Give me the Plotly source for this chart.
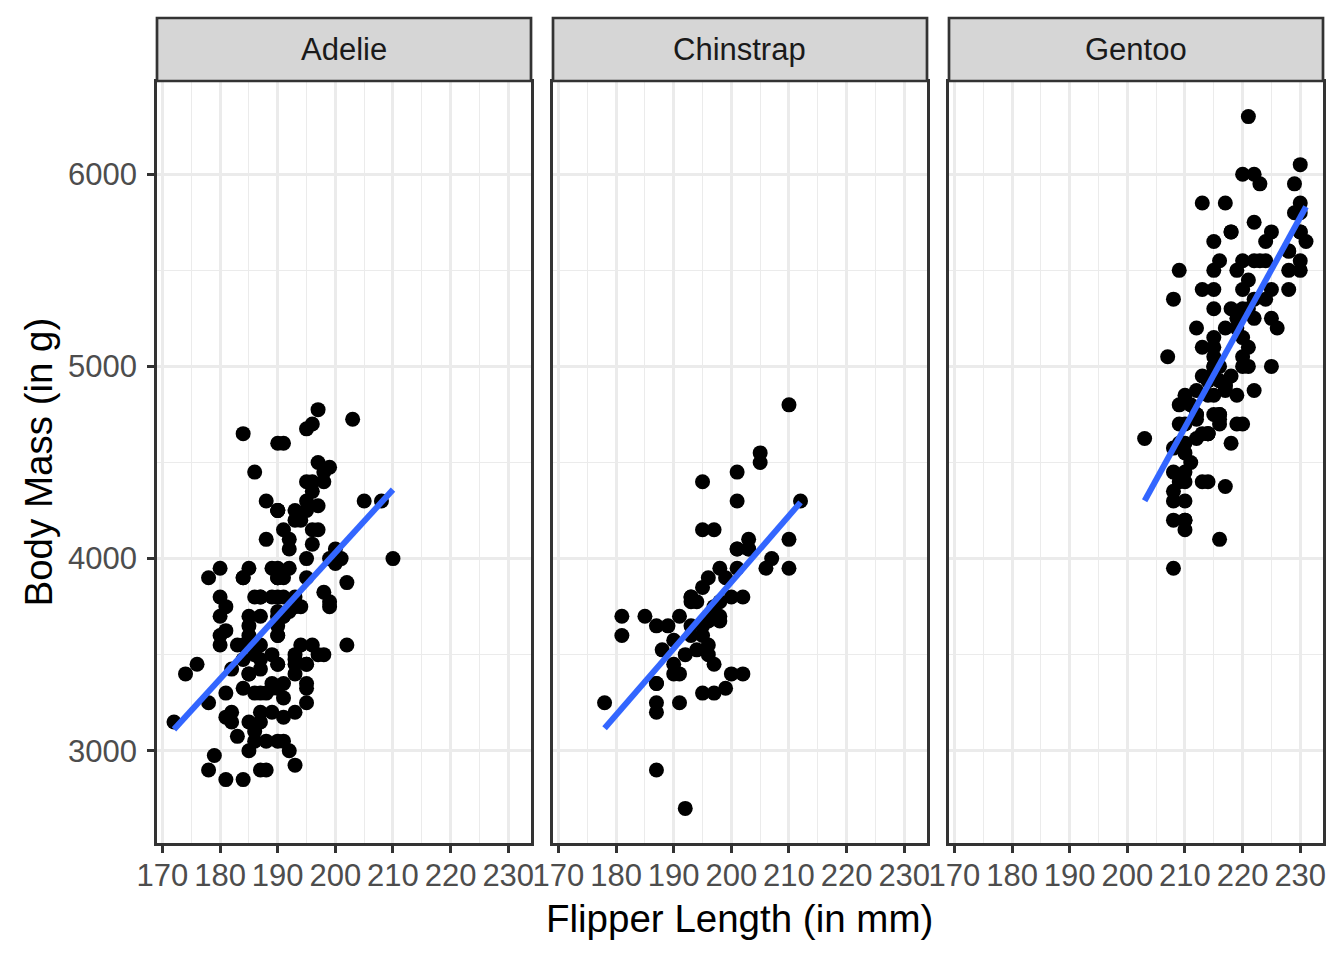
import numpy as np
import plotly.graph_objects as go

W, H = 1344, 960

species = ['Adelie', 'Chinstrap', 'Gentoo']

adelie_flipper = [181, 186, 195, 193, 190, 181, 195, 193, 190, 186, 180, 182, 191, 198, 185, 195, 197, 184, 194, 174,
                  180, 189, 185, 180, 187, 183, 187, 172, 180, 178, 178, 188, 184, 195, 196, 190, 180, 181, 184, 182,
                  195, 186, 196, 185, 190, 182, 179, 190, 191, 186, 188, 190, 200, 187, 191, 186, 193, 181, 194, 185,
                  195, 185, 192, 184, 192, 195, 188, 190, 198, 190, 190, 196, 197, 190, 195, 191, 184, 187, 195, 189,
                  196, 187, 193, 191, 194, 190, 189, 189, 190, 202, 205, 185, 186, 187, 208, 190, 196, 178, 192, 192,
                  203, 183, 190, 193, 184, 199, 190, 181, 197, 198, 191, 193, 197, 191, 196, 188, 199, 189, 189, 187,
                  198, 176, 202, 186, 199, 191, 195, 191, 210, 190, 197, 193, 199, 187, 190, 191, 200, 185, 193, 193,
                  187, 188, 190, 192, 185, 190, 184, 195, 193, 187, 201]
adelie_mass = [3750, 3800, 3250, 3450, 3650, 3625, 4675, 3475, 4250, 3300, 3700, 3200, 3800, 4400, 3700, 3450, 4500,
               3325, 4200, 3400, 3600, 3800, 3950, 3800, 3800, 3550, 3200, 3150, 3950, 3250, 3900, 3300, 3900, 3325,
               4150, 3950, 3550, 3300, 4650, 3150, 3900, 3100, 4400, 3000, 4600, 3425, 2975, 3450, 4150, 3500, 4300,
               3450, 4050, 2900, 3700, 3550, 3800, 2850, 3750, 3150, 4400, 3600, 4050, 2850, 3950, 3350, 4100, 3050,
               4450, 3600, 3900, 3550, 4150, 3700, 4250, 3700, 3900, 3550, 4000, 3200, 4700, 3800, 4200, 3350, 3550,
               3800, 3500, 3950, 3600, 3550, 4300, 3400, 4450, 3300, 4300, 3700, 4350, 2900, 4100, 3725, 4725, 3075,
               4250, 2925, 3550, 3750, 3900, 3175, 4775, 3825, 4600, 3200, 4275, 3900, 4075, 2900, 3775, 3350, 3325,
               3150, 3500, 3450, 3875, 3050, 4000, 3275, 4300, 3050, 4000, 3325, 3500, 3500, 4475, 3425, 3900, 3175,
               3975, 3400, 4250, 3400, 3475, 3050, 3725, 3000, 3650, 4250, 3475, 3450, 3750, 3700, 4000]

chinstrap_flipper = [192, 196, 193, 188, 197, 198, 178, 197, 195, 198, 193, 194, 185, 201, 190, 201, 197, 181, 190,
                     195, 181, 191, 187, 193, 195, 197, 200, 200, 191, 205, 187, 201, 187, 203, 195, 199, 195, 210,
                     192, 205, 210, 187, 196, 196, 196, 201, 190, 212, 187, 198, 199, 201, 193, 203, 187, 197, 191,
                     203, 202, 194, 206, 189, 195, 207, 202, 193, 210, 198]
chinstrap_mass = [3500, 3900, 3650, 3525, 3725, 3950, 3250, 3750, 4150, 3700, 3800, 3775, 3700, 4050, 3575, 4050,
                  3300, 3700, 3450, 4400, 3600, 3400, 2900, 3800, 3300, 4150, 3400, 3800, 3700, 4550, 3200, 4300,
                  3350, 4100, 3600, 3900, 3850, 4800, 2700, 4500, 3950, 3650, 3550, 3500, 3675, 4450, 3400, 4300,
                  3250, 3675, 3325, 3950, 3600, 4050, 3350, 3450, 3250, 4050, 3800, 3525, 3950, 3650, 3650, 4000,
                  3400, 3775, 4100, 3775]

gentoo_flipper = [211, 230, 210, 218, 215, 210, 211, 219, 209, 215, 214, 216, 214, 213, 210, 217, 210, 221, 209, 222,
                  218, 215, 213, 215, 215, 215, 216, 215, 210, 220, 222, 209, 207, 230, 220, 220, 213, 219, 208, 208,
                  208, 225, 210, 216, 222, 217, 210, 225, 213, 215, 210, 220, 210, 225, 217, 220, 208, 220, 208, 224,
                  208, 221, 214, 231, 219, 230, 214, 229, 220, 223, 216, 221, 221, 217, 216, 230, 209, 220, 215, 223,
                  212, 221, 212, 224, 212, 228, 218, 218, 212, 230, 218, 228, 212, 224, 214, 226, 216, 222, 203, 225,
                  219, 228, 215, 228, 216, 215, 210, 219, 208, 209, 216, 229, 213, 230, 217, 230, 217, 222, 214, 215,
                  222, 212, 213]
gentoo_mass = [4500, 5700, 4450, 5700, 5400, 4550, 4800, 5200, 4400, 5150, 4650, 5550, 4650, 5850, 4200, 5850, 4150,
               6300, 4800, 5350, 5700, 5000, 4400, 5050, 5000, 5100, 4100, 5650, 4600, 5550, 5250, 4700, 5050, 6050,
               5150, 5400, 4950, 5250, 4350, 5350, 3950, 5700, 4300, 4750, 5550, 4900, 4200, 5400, 5100, 5300, 4850,
               5300, 4400, 5000, 4900, 5050, 4300, 5000, 4450, 5550, 4200, 5300, 4400, 5650, 4700, 5700, 4650, 5800,
               4700, 5550, 4750, 5000, 5100, 5200, 4700, 5800, 4600, 6000, 4750, 5950, 4625, 5450, 4725, 5350, 4750,
               5600, 4600, 5300, 4875, 5550, 4950, 5400, 4750, 5650, 4850, 5200, 4925, 4875, 4625, 5250, 4850, 5600,
               4975, 5500, 4725, 5500, 4700, 5500, 4575, 5500, 5000, 5950, 4650, 5500, 4375, 5850, 4875, 6000, 4925,
               4850, 5750, 5200, 5400]

flippers = [adelie_flipper, chinstrap_flipper, gentoo_flipper]
masses = [adelie_mass, chinstrap_mass, gentoo_mass]

x_ticks = [170, 180, 190, 200, 210, 220, 230]
y_ticks = [3000, 4000, 5000, 6000]

# panel boxes in screen pixels (left, right), shared top/bottom
panels_px = [(157, 531), (553, 927), (949, 1323)]
panel_top, panel_bottom = 82, 843
strip_top, strip_bottom = 18, 81

# the page body has an 8px margin, so shift everything back by that much
OFF = 8

font_family = 'Liberation Sans, Arial, sans-serif'
border = '#333333'


def px_x(v):
    return (v - OFF) / W


def px_y(v):
    return 1 - (v - OFF) / H


fig = go.Figure()
layout = dict(
    width=W, height=H,
    margin=dict(l=0, r=0, t=0, b=0, autoexpand=False),
    paper_bgcolor='white', plot_bgcolor='white',
    showlegend=False,
    font=dict(family=font_family, color='#4D4D4D', size=31),
    shapes=[], annotations=[],
)

for i, name in enumerate(species):
    n = '' if i == 0 else str(i + 1)
    x = np.array(flippers[i])
    y = np.array(masses[i])
    fig.add_trace(go.Scatter(
        x=x, y=y, mode='markers',
        marker=dict(color='black', size=15, line=dict(width=0)),
        xaxis='x' + n, yaxis='y' + n,
    ))
    # linear fit, like geom_smooth(method = "lm")
    slope, icept = np.polyfit(x, y, 1)
    xs = np.array([x.min(), x.max()])
    fig.add_trace(go.Scatter(
        x=xs, y=slope * xs + icept, mode='lines',
        line=dict(color='#3366FF', width=6),
        xaxis='x' + n, yaxis='y' + n,
    ))

    l, r = panels_px[i]
    layout['xaxis' + n] = dict(
        domain=[px_x(l), px_x(r)], anchor='y' + n, automargin=False,
        range=[169.05, 233.95], tickvals=x_ticks,
        showgrid=True, gridcolor='#EBEBEB', gridwidth=2.8,
        minor=dict(tickvals=[175, 185, 195, 205, 215, 225], showgrid=True,
                   gridcolor='#EBEBEB', gridwidth=1.4),
        showline=True, mirror=True, linecolor=border, linewidth=2.7,
        ticks='outside', ticklen=7, tickwidth=2.7, tickcolor=border,
        tickfont=dict(size=31, color='#4D4D4D'), ticklabelstandoff=-4,
        zeroline=False,
    )
    layout['yaxis' + n] = dict(
        domain=[px_y(panel_bottom), px_y(panel_top)], anchor='x' + n, automargin=False,
        range=[2520, 6480], tickvals=y_ticks,
        showgrid=True, gridcolor='#EBEBEB', gridwidth=2.8,
        minor=dict(tickvals=[3500, 4500, 5500], showgrid=True,
                   gridcolor='#EBEBEB', gridwidth=1.4),
        showline=True, mirror=True, linecolor=border, linewidth=2.7,
        ticks='outside' if i == 0 else '', ticklen=7, tickwidth=2.7, tickcolor=border,
        showticklabels=(i == 0),
        tickfont=dict(size=31, color='#4D4D4D'), ticklabelstandoff=4,
        zeroline=False,
    )
    if i > 0:
        layout['yaxis' + n]['matches'] = 'y'

    # facet strip
    layout['shapes'].append(dict(
        type='rect', xref='paper', yref='paper',
        x0=px_x(l), x1=px_x(r), y0=px_y(strip_bottom), y1=px_y(strip_top),
        fillcolor='#D6D6D6', line=dict(color=border, width=2.7), layer='above',
    ))
    layout['annotations'].append(dict(
        text=name, xref='paper', yref='paper',
        x=px_x((l + r) / 2), y=px_y((strip_top + strip_bottom) / 2),
        xanchor='center', yanchor='middle', showarrow=False,
        font=dict(size=31, color='#1A1A1A'),
    ))

layout['annotations'].append(dict(
    text='Flipper Length (in mm)', xref='paper', yref='paper',
    x=px_x(740), y=px_y(918), xanchor='center', yanchor='middle',
    showarrow=False, font=dict(size=38.5, color='black'),
))
layout['annotations'].append(dict(
    text='Body Mass (in g)', xref='paper', yref='paper',
    x=px_x(38), y=px_y((panel_top + panel_bottom) / 2), xanchor='center', yanchor='middle',
    textangle=-90, showarrow=False, font=dict(size=38.5, color='black'),
))

fig.update_layout(**layout)
fig.write_html('out.html')
